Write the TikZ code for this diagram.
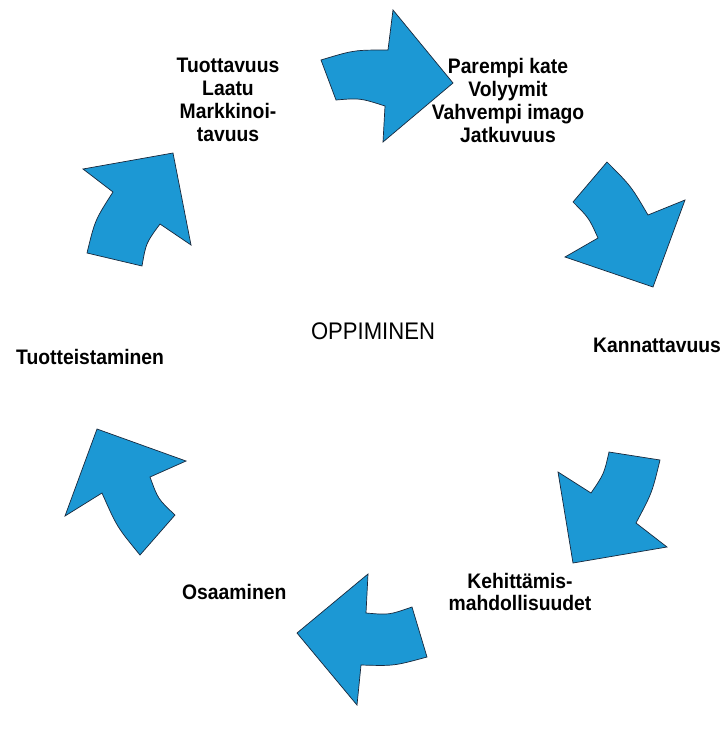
\documentclass[tikz,border=0pt]{standalone}
\usepackage{fontspec}
\setmainfont{Liberation Sans}
\newfontfamily\labfont{Liberation Sans}[FakeStretch=0.92]
\definecolor{arrowblue}{RGB}{28,152,212}
\definecolor{edge}{RGB}{25,40,60}
\begin{document}
\begin{tikzpicture}[x=1pt,y=-1pt,
  cyclearrow/.style={fill=arrowblue,draw=edge,line width=0.7pt,line join=miter},
  lab/.style={font=\labfont\bfseries\fontsize{21}{23}\selectfont,inner sep=0pt,align=center,text=black},
  title/.style={font=\labfont\fontsize{24}{28}\selectfont,inner sep=0pt,text=black}]
\useasboundingbox[fill=white] (0,0) rectangle (724,747);

% six curved arrows running clockwise round the centre
\draw[cyclearrow] (321,60) .. controls (354,50) .. (388,50) -- (393,10) -- (453,83)
  -- (383,142) -- (385,106) .. controls (360,98) .. (336,100) -- cycle;
\draw[cyclearrow] (573,202) -- (607,162) .. controls (631,186) .. (648,215) -- (685,200)
  -- (653,287) -- (565,257) -- (598,238) .. controls (589,218) .. (573,202) -- cycle;
\draw[cyclearrow] (609,452) -- (660,460) .. controls (652,493) .. (636,523) -- (667,547)
  -- (573,563) -- (558,472) -- (591,493) .. controls (604,474) .. (609,452) -- cycle;
\draw[cyclearrow] (412,607) -- (427,657) .. controls (394,666) .. (361,665) -- (357,705)
  -- (297,633) -- (368,574) -- (366,613) .. controls (389,615) .. (412,607) -- cycle;
\draw[cyclearrow] (175,515) -- (140,555) .. controls (117,527) .. (102,493) -- (65,516)
  -- (97,429) -- (186,461) -- (150,477) .. controls (158,499) .. (175,515) -- cycle;
\draw[cyclearrow] (87,253) .. controls (95,220) .. (113,192) -- (83,169) -- (173,153)
  -- (191,245) -- (160,224) .. controls (146,243) .. (142,266) -- cycle;

% labels
\node[title] (oppi) at (373,331) {OPPIMINEN};
\node[lab] (tuot) at (228,100) {Tuottavuus\\Laatu\\Markkinoi-\\tavuus};
\node[lab] (kate) at (508,100) {Parempi kate\\Volyymit\\Vahvempi imago\\Jatkuvuus};
\node[lab,anchor=base west] (kann) at (593,352) {Kannattavuus};
\node[lab,font=\labfont\bfseries\fontsize{21}{21.5}\selectfont] (kehi) at (520,592) {Kehittämis-\\mahdollisuudet};
\node[lab,anchor=base west] (osaa) at (182,599) {Osaaminen};
\node[lab,anchor=base west] (tuotei) at (16,364) {Tuotteistaminen};
\end{tikzpicture}
\end{document}
